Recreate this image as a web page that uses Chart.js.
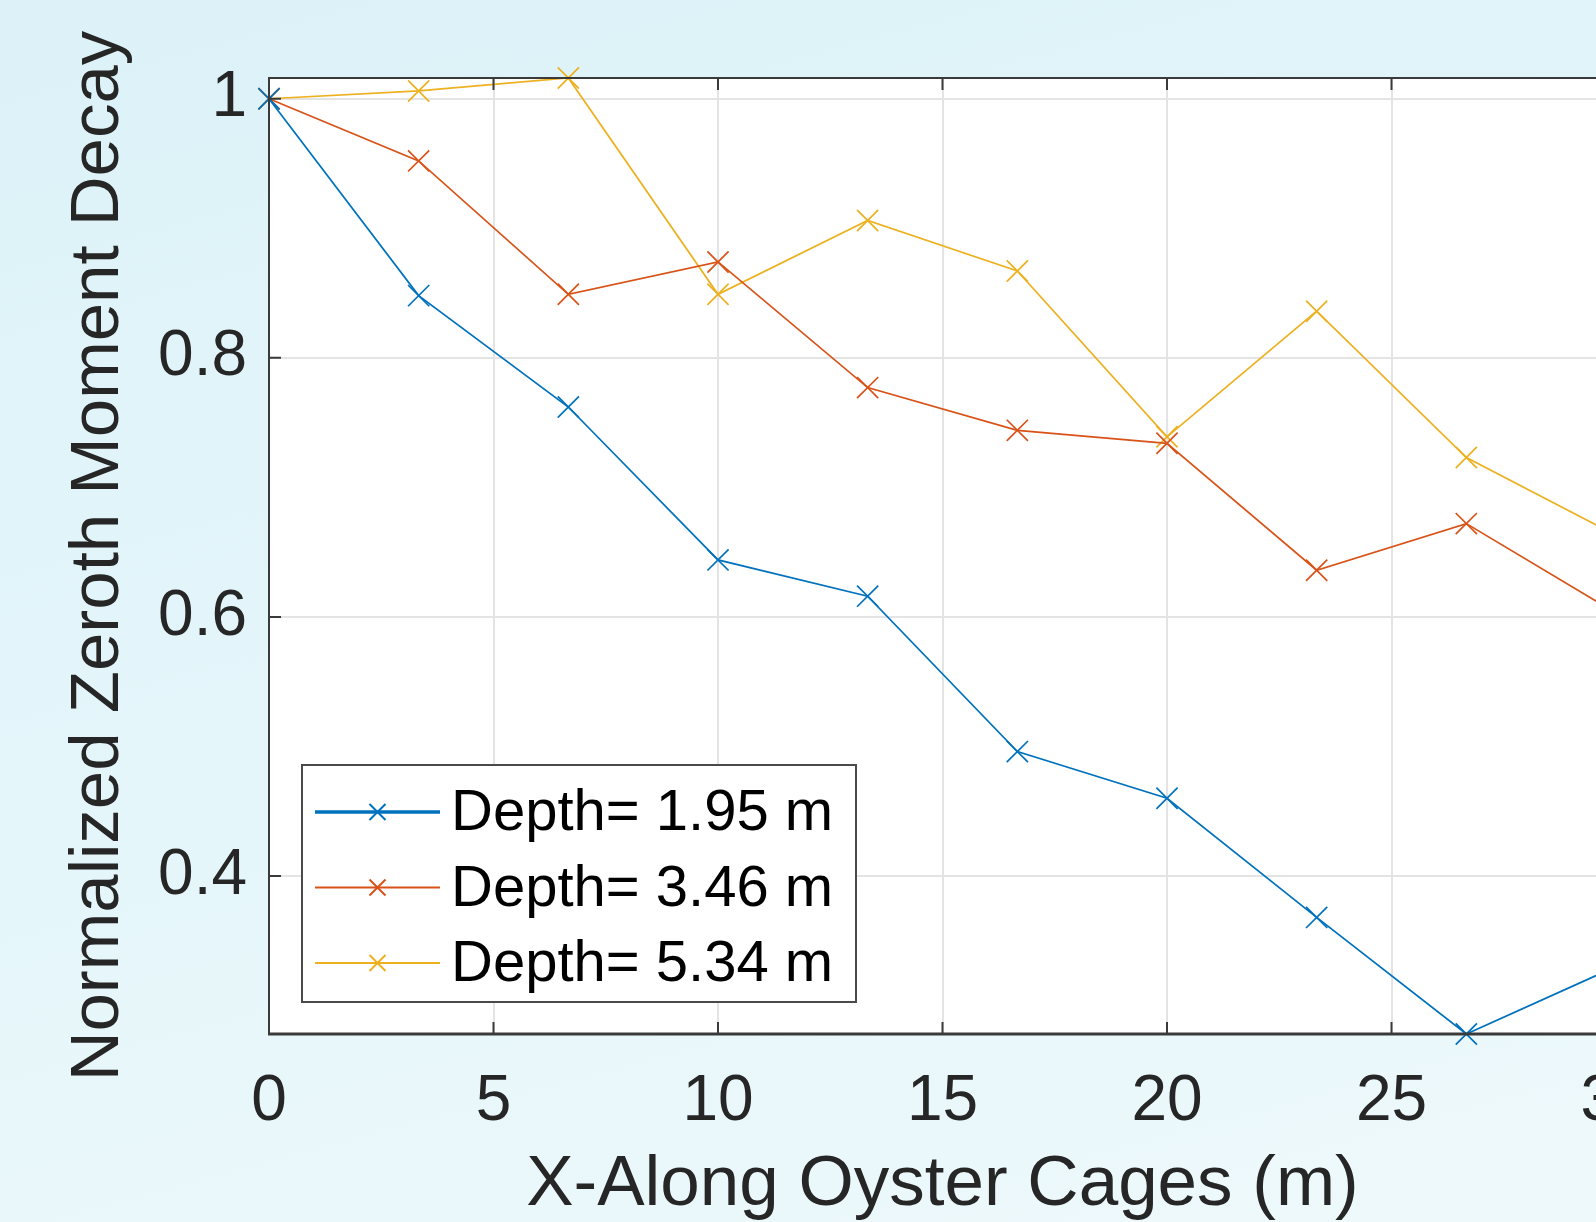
<!DOCTYPE html>
<html><head><meta charset="utf-8">
<script src="https://cdn.jsdelivr.net/npm/chart.js@4.4.0/dist/chart.umd.min.js"></script>
<style>
html,body{margin:0;padding:0;width:1596px;height:1222px;overflow:hidden;
background:linear-gradient(165deg,#dcf2f8 0%,#e5f6fa 55%,#eef9fb 100%);}
canvas{position:absolute;left:0;top:0;}
</style></head><body>
<canvas id="c" width="1700" height="1222"></canvas>
<script>
const xValues = [0, 3.333, 6.667, 10, 13.333, 16.667, 20, 23.333, 26.667, 30];
const depth195 = [1.000, 0.848, 0.762, 0.644, 0.616, 0.496, 0.460, 0.368, 0.278, 0.330];
const depth346 = [1.000, 0.952, 0.849, 0.874, 0.777, 0.744, 0.734, 0.636, 0.672, 0.603];
const depth534 = [1.000, 1.006, 1.016, 0.849, 0.906, 0.867, 0.739, 0.836, 0.723, 0.663];
const seriesLabels = ['Depth= 1.95 m', 'Depth= 3.46 m', 'Depth= 5.34 m'];
const xTicks = [0, 5, 10, 15, 20, 25, 30];
const yTicks = [0.4, 0.6, 0.8, 1];
const xTitle = 'X-Along Oyster Cages (m)';
const yTitle = 'Normalized Zeroth Moment Decay';

const colors = ['#0072BD', '#D95319', '#EDB120'];
const FONT = '"Liberation Sans", Arial, sans-serif';
const allY = depth195.concat(depth346, depth534);

function mk(vals, i){
  return {
    label: seriesLabels[i],
    data: xValues.map((x, k) => ({x: x, y: vals[k]})),
    borderColor: colors[i], backgroundColor: colors[i],
    borderWidth: 1.7, tension: 0,
    pointStyle: 'crossRot', pointRadius: 15, pointHoverRadius: 15,
    pointBorderWidth: 1.7, pointBorderColor: colors[i], pointBackgroundColor: 'rgba(0,0,0,0)',
    clip: false
  };
}

const boxPlugin = {
  id: 'boxTicks',
  beforeDraw(chart){
    const {ctx, chartArea: ca} = chart;
    ctx.save();
    ctx.fillStyle = '#ffffff';
    ctx.fillRect(ca.left, ca.top, ca.right - ca.left, ca.bottom - ca.top);
    ctx.restore();
  },
  afterDatasetsDraw(chart){
    const {ctx, chartArea: ca, scales: {x, y}} = chart;
    ctx.save();
    ctx.strokeStyle = '#3a3a3a';
    ctx.lineWidth = 2;
    const L = 12;
    ctx.beginPath();
    xTicks.forEach(v => {
      const px = x.getPixelForValue(v);
      ctx.moveTo(px, ca.bottom); ctx.lineTo(px, ca.bottom - L);
      ctx.moveTo(px, ca.top); ctx.lineTo(px, ca.top + L);
    });
    yTicks.forEach(v => {
      const py = y.getPixelForValue(v);
      ctx.moveTo(ca.left, py); ctx.lineTo(ca.left + L, py);
      ctx.moveTo(ca.right, py); ctx.lineTo(ca.right - L, py);
    });
    ctx.stroke();
    ctx.lineWidth = 2;
    ctx.strokeRect(ca.left, ca.top, ca.right - ca.left, ca.bottom - ca.top);
    ctx.lineWidth = 3;
    ctx.beginPath(); ctx.moveTo(ca.left - 1, ca.bottom); ctx.lineTo(ca.right, ca.bottom); ctx.stroke();
    ctx.restore();
  },
  afterDraw(chart){
    const {ctx, chartArea: ca} = chart;
    const ds = chart.data.datasets;
    ctx.save();
    const x0 = ca.left + 33, top = 765, w = 554, h = 237;
    ctx.fillStyle = '#ffffff';
    ctx.fillRect(x0, top, w, h);
    ctx.strokeStyle = '#4a4a4a'; ctx.lineWidth = 2;
    ctx.strokeRect(x0, top, w, h);
    ctx.font = '58px ' + FONT;
    ctx.textBaseline = 'middle';
    ctx.textAlign = 'left';
    ds.forEach((d, i) => {
      const cy = top + 47 + i * 75.5;
      ctx.strokeStyle = d.borderColor;
      ctx.lineWidth = i === 0 ? 3.5 : 2;
      ctx.beginPath(); ctx.moveTo(x0 + 13, cy); ctx.lineTo(x0 + 138, cy); ctx.stroke();
      const mx = x0 + 75.5, r = 8;
      ctx.lineWidth = 2;
      ctx.beginPath();
      ctx.moveTo(mx - r, cy - r); ctx.lineTo(mx + r, cy + r);
      ctx.moveTo(mx - r, cy + r); ctx.lineTo(mx + r, cy - r);
      ctx.stroke();
      ctx.fillStyle = '#000000';
      ctx.fillText(d.label, x0 + 149, cy + 2);
    });
    ctx.restore();
  }
};

new Chart(document.getElementById('c'), {
  type: 'line',
  data: { datasets: [mk(depth195, 0), mk(depth346, 1), mk(depth534, 2)] },
  options: {
    responsive: false, animation: false, devicePixelRatio: 1,
    layout: { padding: { top: 78, right: 84, left: 0, bottom: 0 } },
    plugins: { legend: { display: false }, tooltip: { enabled: false } },
    events: [],
    scales: {
      x: {
        type: 'linear', min: 0, max: 30,
        afterBuildTicks: s => { s.ticks = xTicks.map(v => ({value: v})); },
        afterFit: s => { s.height = 188; },
        grid: { color: '#e4e4e4', lineWidth: 2, drawTicks: false },
        border: { display: false },
        ticks: { font: { family: FONT, size: 64, lineHeight: 1 }, color: '#262626', padding: 36,
                 maxRotation: 0, autoSkip: false, callback: v => String(v) },
        title: { display: true, text: xTitle, color: '#262626',
                 font: { family: FONT, size: 71, lineHeight: 1 }, padding: { top: 0, bottom: 1 } }
      },
      y: {
        type: 'linear', min: Math.min(...allY), max: Math.max(...allY),
        afterBuildTicks: s => { s.ticks = yTicks.map(v => ({value: v})); },
        afterFit: s => { s.width = 269; },
        grid: { color: '#e4e4e4', lineWidth: 2, drawTicks: false },
        border: { display: false },
        ticks: { font: { family: FONT, size: 64, lineHeight: 1 }, color: '#262626', padding: 22,
                 autoSkip: false, callback: v => String(v) },
        title: { display: true, text: yTitle, color: '#262626',
                 font: { family: FONT, size: 69, lineHeight: 1 }, padding: { top: 64, bottom: 0 } }
      }
    }
  },
  plugins: [boxPlugin]
});
</script>
</body></html>
